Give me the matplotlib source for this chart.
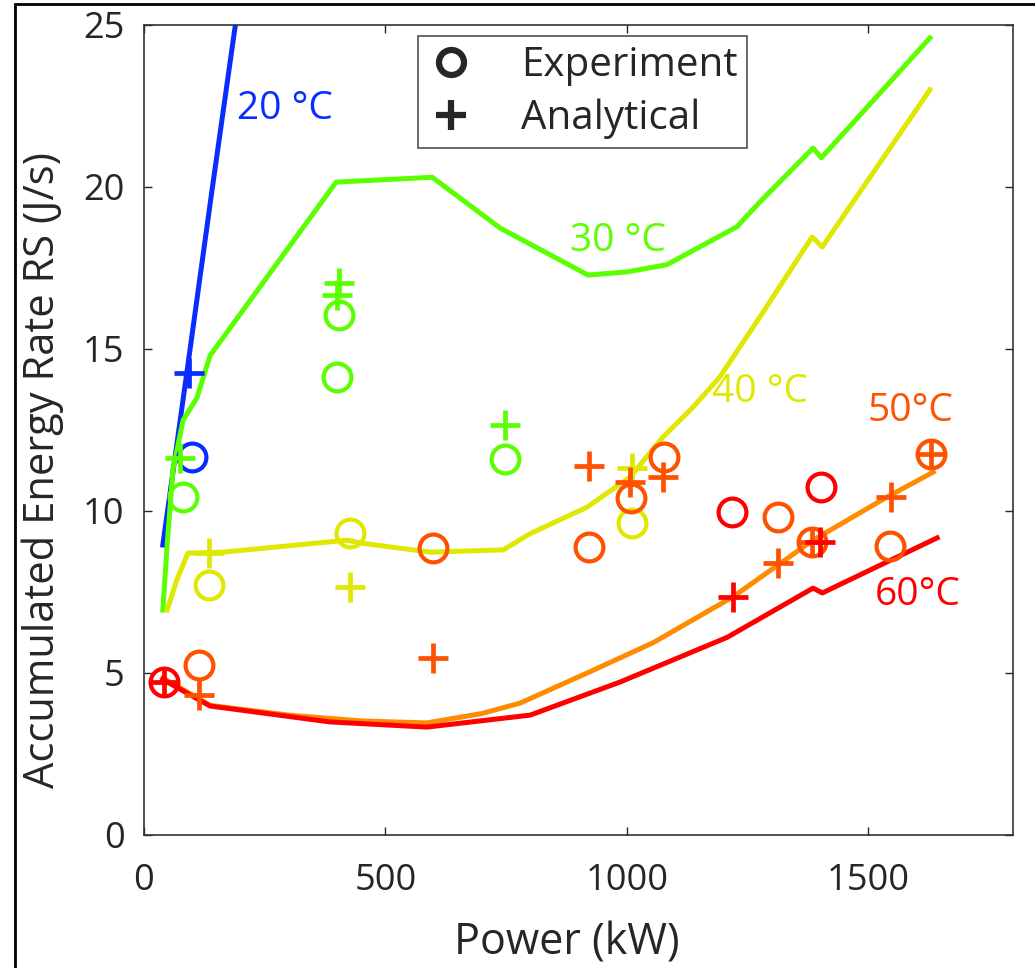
import matplotlib.pyplot as plt
from matplotlib.lines import Line2D
from matplotlib.patches import Rectangle

plt.rcParams['font.family'] = ['Open Sans', 'DejaVu Sans']

# simulated curves (power kW, energy rate J/s)
p20 = [39, 90, 140, 195]
e20 = [8.95, 14.4, 19.8, 25.6]

p30 = [39, 48, 60, 81, 110, 137, 398, 597, 738, 920, 1001, 1083, 1228, 1276, 1386, 1403, 1628]
e30 = [6.94, 8.95, 11.27, 12.8, 13.5, 14.8, 20.15, 20.3, 18.73, 17.28, 17.38, 17.6, 18.77, 19.54, 21.2, 20.9, 24.6]

p40 = [48, 68, 91, 164, 421, 454, 593, 744, 800, 918, 1007, 1075, 1137, 1193, 1272, 1384, 1405, 1628]
e40 = [6.94, 7.87, 8.7, 8.73, 9.1, 9.0, 8.73, 8.8, 9.3, 10.12, 11.05, 12.28, 13.2, 14.14, 15.9, 18.46, 18.15, 23.0]

p50 = [39, 137, 300, 450, 586, 700, 779, 918, 1054, 1220, 1386, 1539, 1635]
e50 = [4.85, 4.0, 3.7, 3.52, 3.46, 3.75, 4.07, 5.0, 5.93, 7.35, 9.1, 10.43, 11.2]

p60 = [39, 137, 385, 586, 800, 986, 1208, 1386, 1405, 1643]
e60 = [4.8, 3.98, 3.49, 3.33, 3.7, 4.72, 6.1, 7.62, 7.47, 9.17]

# experiment (circles) and analytical (plus) points
exp20_p, exp20_e = [99], [11.67]
ana20_p, ana20_e = [93], [14.26]
exp30_p, exp30_e = [81, 400, 404, 748], [10.43, 14.14, 16.05, 11.6]
ana30_p, ana30_e = [75, 400, 404, 748], [11.64, 16.67, 17.04, 12.65]
exp40_p, exp40_e = [135, 427, 1011], [7.72, 9.32, 9.63]
ana40_p, ana40_e = [135, 427, 1011], [8.7, 7.65, 11.33]
exp50_p = [114, 599, 922, 1009, 1077, 1313, 1384, 1545, 1630]
exp50_e = [5.25, 8.86, 8.9, 10.4, 11.67, 9.82, 9.04, 8.92, 11.76]
ana50_p = [114, 599, 922, 1007, 1075, 1313, 1384, 1548, 1630]
ana50_e = [4.32, 5.46, 11.39, 10.9, 11.05, 8.4, 9.04, 10.43, 11.76]
exp60_p, exp60_e = [41, 1218, 1403], [4.72, 9.97, 10.74]
ana60_p, ana60_e = [41, 1220, 1400], [4.72, 7.35, 9.04]

c20 = '#0a2dff'
c30 = '#5cff00'
c40 = '#dfe800'
c50_line = '#ff8c00'
c50 = '#ff5200'
c60 = '#ff0000'

fig = plt.figure(figsize=(10.35, 9.68), dpi=100)
ax = fig.add_axes([0.1391, 0.1374, 0.8396, 0.8368])

lw = 3.6
ax.plot(p20, e20, color=c20, lw=lw)
ax.plot(p30, e30, color=c30, lw=lw)
ax.plot(p40, e40, color=c40, lw=lw)
ax.plot(p50, e50, color=c50_line, lw=lw)
ax.plot(p60, e60, color=c60, lw=lw)

ms_o, mew_o = 20, 3.0
ms_p, mew_p = 21, 3.4
for ep, ee, apx, ae, col in [
        (exp20_p, exp20_e, ana20_p, ana20_e, c20),
        (exp30_p, exp30_e, ana30_p, ana30_e, c30),
        (exp40_p, exp40_e, ana40_p, ana40_e, c40),
        (exp50_p, exp50_e, ana50_p, ana50_e, c50),
        (exp60_p, exp60_e, ana60_p, ana60_e, c60)]:
    ax.plot(ep, ee, ls='none', marker='o', mfc='none', mec=col, ms=ms_o, mew=mew_o)
    ax.plot(apx, ae, ls='none', marker='+', color=col, ms=ms_p, mew=mew_p)

# curve labels
ax.text(193, 22.4, '20 °C', color=c20, fontsize=28, va='center')
ax.text(883, 18.33, '30 °C', color=c30, fontsize=28, va='center')
ax.text(1177, 13.67, '40 °C', color=c40, fontsize=28, va='center')
ax.text(1498, 13.1, '50°C', color=c50, fontsize=28, va='center')
ax.text(1514, 7.4, '60°C', color=c60, fontsize=28, va='center')

ax.set_xlim(0, 1800)
ax.set_ylim(0, 25)
ax.set_xticks([0, 500, 1000, 1500])
ax.set_yticks([0, 5, 10, 15, 20, 25])
ax.tick_params(direction='in', length=6, width=1, top=True, right=True,
               labelsize=26, colors='#262626')
ax.tick_params(axis='x', pad=20)
ax.tick_params(axis='y', pad=14)
for s in ax.spines.values():
    s.set_color('#333333')
    s.set_linewidth(1.2)

ax.set_xlabel('Power (kW)', fontsize=31, color='#262626', va='center')
ax.set_ylabel('Accumulated Energy Rate RS (J/s)', fontsize=30, color='#262626', va='center')
ax.xaxis.set_label_coords(0.487, -0.134)
ax.yaxis.set_label_coords(-0.117, 0.45)

handles = [Line2D([], [], ls='none', marker='o', mfc='none', mec='#262626', ms=18, mew=4.5),
           Line2D([], [], ls='none', marker='+', color='#262626', ms=21, mew=4.5)]
leg = ax.legend(handles, ['Experiment', 'Analytical'], loc='upper left',
                bbox_to_anchor=(0.315, 0.986), fontsize=29, frameon=True,
                fancybox=False, edgecolor='#262626', handlelength=1.2,
                handletextpad=1.15, borderpad=0.22, labelspacing=0.32, borderaxespad=0)
leg.get_frame().set_linewidth(1.2)
for t in leg.get_texts():
    t.set_color('#262626')

# outer figure frame
fig.patches.append(Rectangle((15 / 1035, -0.1), 1.2, 1.1 - 4 / 968, transform=fig.transFigure,
                             fill=False, lw=2, edgecolor='black'))

fig.savefig('out.png', dpi=100)
